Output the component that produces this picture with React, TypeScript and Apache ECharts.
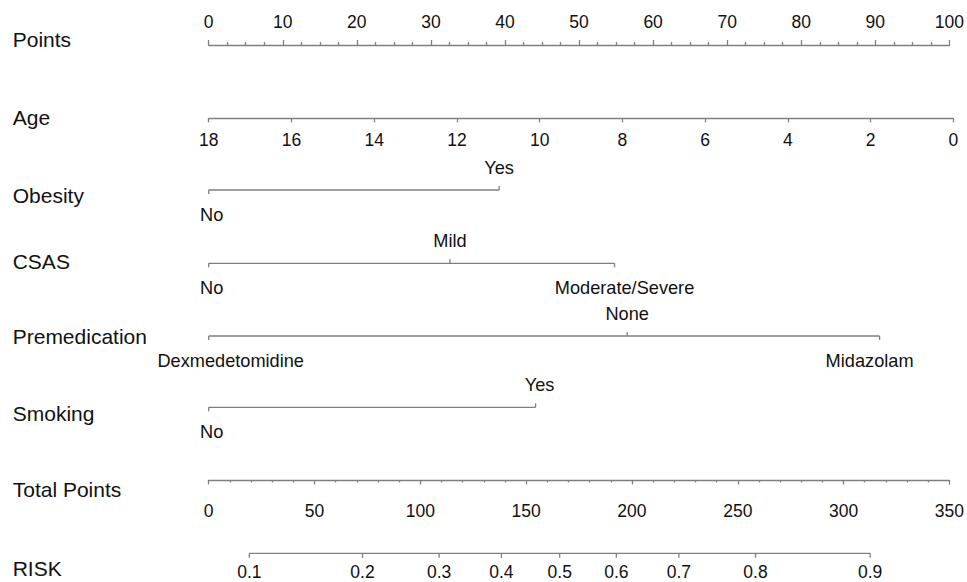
import React, { useEffect, useRef } from 'react';
import * as echarts from 'echarts';

// ---------- data ----------
const rowTitles = ['Points', 'Age', 'Obesity', 'CSAS', 'Premedication', 'Smoking', 'Total Points', 'RISK'];

const pointsRange = [0, 100];
const pointsStep = 10;
const ageRange = [0, 18]; // drawn reversed: 18 -> 0 points, 0 -> 100 points
const ageStep = 2;
const totalRange = [0, 350];
const totalStep = 50;

const obesityLevels = ['No', 'Yes'];
const obesityPoints = [0, 39];
const csasLevels = ['No', 'Mild', 'Moderate/Severe'];
const csasPoints = [0, 32.4, 54.5];
const premedLevels = ['Dexmedetomidine', 'None', 'Midazolam'];
const premedPoints = [0, 56.2, 90.1];
const smokingLevels = ['No', 'Yes'];
const smokingPoints = [0, 43.9];

const riskLabels = ['0.1', '0.2', '0.3', '0.4', '0.5', '0.6', '0.7', '0.8', '0.9'];
const riskTotalPoints = [19.1, 72.3, 108.3, 137.6, 165.0, 191.6, 221.0, 257.0, 310.9];

// ---------- layout / style ----------
const W = 967;
const H = 582;
const LEFT = 208.7;
const RIGHT = W - 953.3;
const ROW_Y = [45, 118.3, 190, 263.3, 336, 407.3, 480, 553.3];
const TITLE_Y = [40.3, 118.3, 196.2, 262.2, 337.8, 414.5, 490.8, 569.5];
const TITLE_X = 12.7;
const FONT = '"Liberation Sans", Arial, Helvetica, sans-serif';
const LINE_COLOR = '#7f7f7f';
const LINE_W = 1.3;
const TEXT_COLOR = '#111111';
const NUM_SIZE = 17.5;
const CAT_SIZE = 18.2;
const TITLE_SIZE = 21;
const LABEL_DX: Record<string, number> = {
  'Premedication|Dexmedetomidine': 22,
  'Premedication|Midazolam': -10,
  'CSAS|Moderate/Severe': 10,
  'Smoking|Yes': 4,
  'Obesity|No': 3,
  'CSAS|No': 3,
  'Smoking|No': 3,
};

export default function App() {
  const ref = useRef<HTMLDivElement>(null);

  useEffect(() => {
    if (!ref.current) return;
    const chart = echarts.init(ref.current, undefined, { renderer: 'svg' });

    const grids = ROW_Y.map((y) => ({ left: LEFT, right: RIGHT, top: y - 10, height: 20 }));
    const yAxes = ROW_Y.map((_, i) => ({ type: 'value', gridIndex: i, min: -1, max: 1, show: false }));

    const lineStyle = { color: LINE_COLOR, width: LINE_W };
    const numLabel = { color: TEXT_COLOR, fontSize: NUM_SIZE, fontFamily: FONT };

    const hiddenX = (i: number, min: number, max: number) => ({
      type: 'value', gridIndex: i, min, max, show: false,
    });

    const xAxes: any[] = [
      {
        type: 'value', gridIndex: 0, position: 'top', min: pointsRange[0], max: pointsRange[1], interval: pointsStep,
        axisLine: { show: true, onZero: true, lineStyle },
        axisTick: { show: true, length: 5, lineStyle },
        minorTick: { show: true, splitNumber: 4, length: 3, lineStyle },
        axisLabel: { ...numLabel, margin: 4 },
        splitLine: { show: false },
      },
      {
        type: 'value', gridIndex: 1, position: 'bottom', inverse: true, min: ageRange[0], max: ageRange[1], interval: ageStep,
        axisLine: { show: true, onZero: true, lineStyle },
        axisTick: { show: true, length: 4, lineStyle },
        axisLabel: { ...numLabel, margin: 2.5 },
        splitLine: { show: false },
      },
      hiddenX(2, pointsRange[0], pointsRange[1]),
      hiddenX(3, pointsRange[0], pointsRange[1]),
      hiddenX(4, pointsRange[0], pointsRange[1]),
      hiddenX(5, pointsRange[0], pointsRange[1]),
      {
        type: 'value', gridIndex: 6, position: 'bottom', min: totalRange[0], max: totalRange[1], interval: totalStep,
        axisLine: { show: true, onZero: true, lineStyle },
        axisTick: { show: true, length: 4.5, lineStyle },
        minorTick: { show: true, splitNumber: 5, length: 2.5, lineStyle },
        axisLabel: { ...numLabel, margin: 11.5 },
        splitLine: { show: false },
      },
      hiddenX(7, totalRange[0], totalRange[1]),
    ];

    const series: any[] = [];

    const addCategorical = (row: number, levels: string[], pts: number[]) => {
      const title = rowTitles[row];
      series.push({
        type: 'line', xAxisIndex: row, yAxisIndex: row, silent: true, symbol: 'none',
        lineStyle: { color: LINE_COLOR, width: LINE_W },
        data: [[Math.min(...pts), 0], [Math.max(...pts), 0]],
      });
      series.push({
        type: 'custom', xAxisIndex: row, yAxisIndex: row, silent: true,
        data: pts.map((v) => [v, 0]),
        renderItem: (params: any, api: any) => {
          const idx = params.dataIndex;
          const c = api.coord([api.value(0), 0]);
          const above = idx % 2 === 1;
          const dir = above ? -1 : 1;
          const name = levels[idx];
          const dx = LABEL_DX[title + '|' + name] || 0;
          return {
            type: 'group',
            children: [
              { type: 'line', shape: { x1: c[0], y1: c[1], x2: c[0], y2: c[1] + dir * 4 }, style: { stroke: LINE_COLOR, lineWidth: LINE_W } },
              {
                type: 'text', x: c[0] + dx, y: c[1] + (above ? -22.5 : 24.5),
                style: { text: name, fill: TEXT_COLOR, fontSize: CAT_SIZE, fontFamily: FONT, align: 'center', verticalAlign: 'middle' },
              },
            ],
          };
        },
      });
    };

    addCategorical(2, obesityLevels, obesityPoints);
    addCategorical(3, csasLevels, csasPoints);
    addCategorical(4, premedLevels, premedPoints);
    addCategorical(5, smokingLevels, smokingPoints);

    // Risk row
    series.push({
      type: 'line', xAxisIndex: 7, yAxisIndex: 7, silent: true, symbol: 'none',
      lineStyle: { color: LINE_COLOR, width: LINE_W },
      data: [[riskTotalPoints[0], 0], [riskTotalPoints[riskTotalPoints.length - 1], 0]],
    });
    series.push({
      type: 'custom', xAxisIndex: 7, yAxisIndex: 7, silent: true,
      data: riskTotalPoints.map((v) => [v, 0]),
      renderItem: (params: any, api: any) => {
        const c = api.coord([api.value(0), 0]);
        return {
          type: 'group',
          children: [
            { type: 'line', shape: { x1: c[0], y1: c[1], x2: c[0], y2: c[1] + 4.5 }, style: { stroke: LINE_COLOR, lineWidth: LINE_W } },
            {
              type: 'text', x: c[0], y: c[1] + 18.5,
              style: { text: riskLabels[params.dataIndex], fill: TEXT_COLOR, fontSize: NUM_SIZE, fontFamily: FONT, align: 'center', verticalAlign: 'middle' },
            },
          ],
        };
      },
    });

    const graphic = rowTitles.map((t, i) => ({
      type: 'text', left: TITLE_X, top: TITLE_Y[i] - 11.5,
      style: { text: t, fill: TEXT_COLOR, fontSize: TITLE_SIZE, fontFamily: FONT },
    }));

    chart.setOption({
      animation: false,
      backgroundColor: '#ffffff',
      grid: grids,
      xAxis: xAxes,
      yAxis: yAxes,
      series,
      graphic,
    });

    return () => chart.dispose();
  }, []);

  return (
    <div
      ref={ref}
      style={{ position: 'fixed', left: 0, top: 0, width: W, height: H, background: '#fff' }}
    />
  );
}
